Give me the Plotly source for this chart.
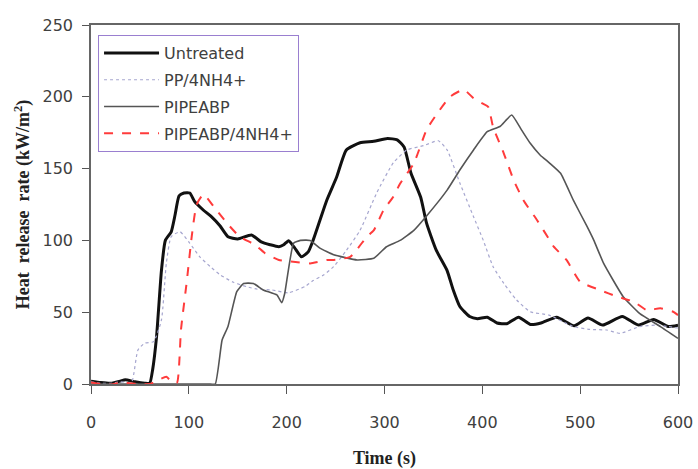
import plotly.graph_objects as go

# ---- data ----
untreated_t = [0, 10, 20, 30, 35, 45, 55, 60, 63, 67, 72, 76, 82, 86, 90, 95, 101, 106, 115, 123, 132, 140,
               150, 164, 174, 183, 192, 197, 202, 208, 215, 222, 227, 234, 241, 251, 261, 275, 289, 303, 313,
               320, 327, 337, 343, 353, 364, 370, 377, 387, 395, 405, 415, 425, 437, 449, 460, 476, 494, 508,
               523, 543, 560, 575, 590, 600]
untreated_y = [2, 1, 0.5, 2, 3, 1.5, 0.5, 0.5, 10, 33, 79, 100, 106, 118, 131, 133, 133, 127, 121, 116.5, 110,
               102.6, 101, 103.8, 99, 97, 95.6, 97, 99.8, 95, 88.6, 92, 100, 114, 128, 144, 163, 168, 169, 171,
               170, 165, 147, 130, 112, 93, 79, 66, 54, 47, 45.5, 46.5, 42.5, 42, 46.5, 41.5, 42.5, 46.5, 40.5,
               46, 41, 47, 41, 45, 40, 41]

pp_t = [0, 10, 20, 30, 38, 42, 48, 55, 64, 72, 77, 82, 91, 101, 111, 122, 132, 145, 159, 170, 185, 202, 219,
        227, 238, 248, 261, 275, 292, 309, 323, 340, 355, 364, 377, 391, 401, 411, 422, 435, 449, 468, 493,
        510, 527, 541, 561, 578, 590, 600]
pp_y = [1.5, 0.5, 0.5, 1.5, 1, 2, 23.7, 28.5, 29.5, 44.6, 84, 102.6, 106, 98, 88.7, 81.7, 76, 71, 67.8, 66,
        65.5, 63.5, 68, 72, 76, 81.7, 93, 107, 133, 154, 163, 166, 169.4, 163, 140, 116.5, 100, 81.7, 70,
        58.5, 50.3, 48, 40, 38, 37.6, 35.3, 40, 41, 40, 39]

pipe_t = [0, 120, 127, 134, 140, 149, 156, 166, 176, 190, 195, 198, 207, 214, 224, 234, 248, 272, 289, 302,
          316, 330, 343, 364, 377, 391, 405, 418, 430, 440, 449, 459, 469, 480, 493, 507, 514, 524, 544, 561,
          582, 600]
pipe_y = [0, 0, 0, 30.6, 40, 64.3, 70, 70, 65.5, 62, 56.6, 63, 98, 100, 100, 94.6, 90, 86.4, 87.5, 95.6,
          100, 107, 117, 135, 149, 163, 175.7, 179.3, 187.3, 177, 167.6, 159.5, 153.7, 146.7, 128, 109.7,
          100, 84, 60.8, 49, 40, 31.8]

pipenh_t = [0, 10, 20, 30, 40, 50, 60, 69, 77, 84, 88, 92, 98, 103, 108, 115, 125, 139, 152, 168, 178, 192,
            209, 224, 241, 248, 265, 282, 289, 299, 309, 316, 330, 343, 354, 367, 381, 391, 400, 406, 411, 422,
            432, 442, 456, 469, 473, 486, 500, 520, 538, 555, 568, 582, 595, 600]
pipenh_y = [1, 0, -0.5, 1, 0.5, 0, 0, 2.8, 5, 0.5, 1, 38, 72, 103, 125, 132, 124, 112, 102.6, 96.8, 91, 86.4,
            85, 84, 86.4, 86.4, 88.6, 102.6, 107, 121, 130.4, 139.6, 153.7, 177, 188.5, 200, 205, 199, 195.4,
            193, 179, 160.5, 142, 128, 114, 100, 95.6, 86.4, 71.2, 65.5, 60.8, 57.3, 51.5, 52.7, 50.3, 48]

x_ticks = [0, 100, 200, 300, 400, 500, 600]
y_ticks = [0, 50, 100, 150, 200, 250]

fig = go.Figure()
fig.add_trace(go.Scatter(x=untreated_t, y=untreated_y, mode="lines", name="Untreated", legendgroup="a",
                         line=dict(color="#111111", width=3, shape="spline", smoothing=0.5)))
fig.add_trace(go.Scatter(x=pp_t, y=pp_y, mode="lines", name="PP/4NH4+", legendgroup="b",
                         line=dict(color="#a6a6cf", width=1.2, dash="dot", shape="spline", smoothing=0.5)))
fig.add_trace(go.Scatter(x=pipe_t, y=pipe_y, mode="lines", name="PIPEABP", legendgroup="c",
                         line=dict(color="#555555", width=1.6, shape="spline", smoothing=0.4)))
fig.add_trace(go.Scatter(x=pipenh_t, y=pipenh_y, mode="lines", name="PIPEABP/4NH4+", legendgroup="d",
                         line=dict(color="#ff3b3b", width=2, dash="dash", shape="spline", smoothing=0.5)))

fig.update_layout(
    width=698, height=469,
    margin=dict(l=91, r=20, t=25, b=85),
    plot_bgcolor="white", paper_bgcolor="white",
    font=dict(family="DejaVu Sans", size=16, color="#404040"),
    showlegend=True,
    legend=dict(x=0.012, y=0.972, xanchor="left", yanchor="top",
                bordercolor="#9a7fd0", borderwidth=1, bgcolor="white",
                tracegroupgap=3, itemwidth=55, font=dict(size=16, color="#404040")),
    xaxis=dict(range=[0, 600], tickvals=x_ticks, ticks="outside", ticklen=8, tickcolor="#555",
               showline=True, linecolor="#666", linewidth=1.5, mirror=True, showgrid=False, zeroline=False,
               ticklabelstandoff=15, automargin=False,
               title=dict(text="<b>Time (s)</b>", font=dict(family="Liberation Serif", size=18, color="#222"),
                          standoff=26)),
    yaxis=dict(range=[0, 250], tickvals=y_ticks, ticks="outside", ticklen=7, tickcolor="#555",
               showline=True, linecolor="#666", linewidth=1.5, mirror=True, showgrid=False, zeroline=False,
               ticklabelstandoff=6, automargin=False,
               title=dict(text="<b>Heat\u00a0 release\u00a0 rate (kW/m<sup>2</sup>)</b>",
                          font=dict(family="Liberation Serif", size=18, color="#222"), standoff=8)),
)

fig.write_html("out.html")
